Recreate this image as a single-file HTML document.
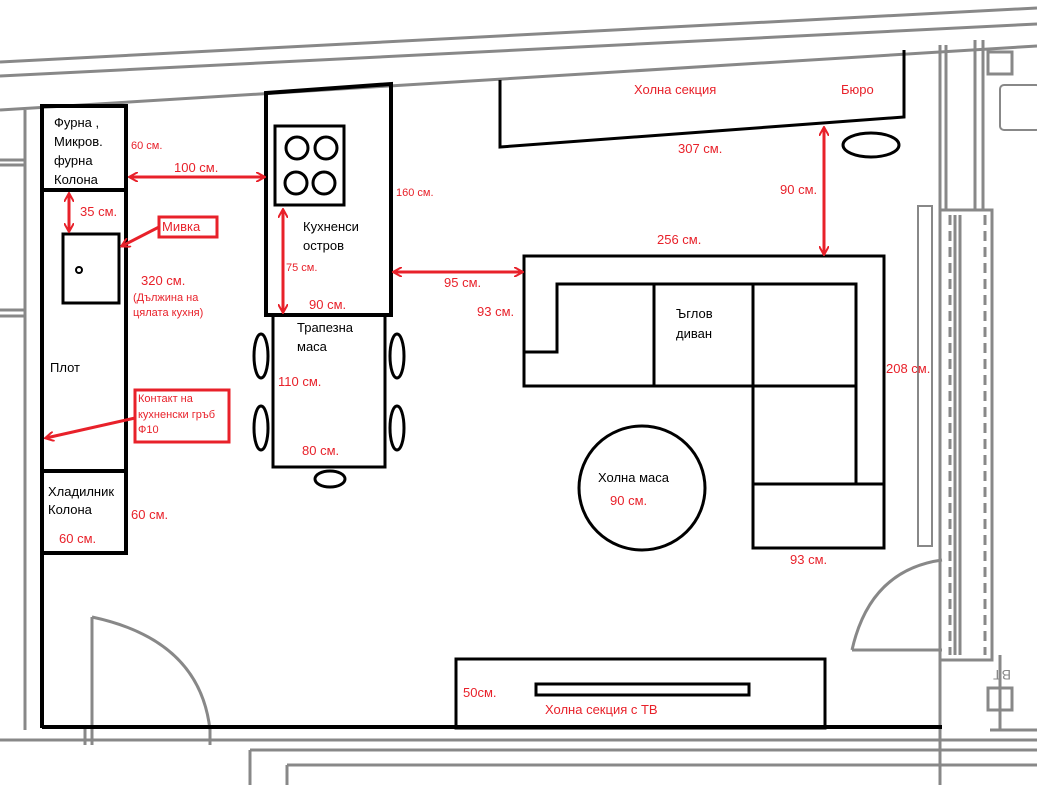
<!DOCTYPE html>
<html><head><meta charset="utf-8"><style>
html,body{margin:0;padding:0;background:#fff}
svg{display:block}
text{font-family:"Liberation Sans","DejaVu Sans",sans-serif}
.k{fill:#000;font-size:13px}
.r{fill:#e8212a;font-size:13px}
.rs{fill:#e8212a;font-size:11px}
</style></head><body>
<svg width="1037" height="785" viewBox="0 0 1037 785" xmlns="http://www.w3.org/2000/svg">
<defs>
<marker id="a" markerWidth="10" markerHeight="10" refX="8" refY="5" orient="auto-start-reverse" markerUnits="userSpaceOnUse">
<path d="M0,0 L9,5 L0,10" fill="none" stroke="#e8212a" stroke-width="2"/></marker>
</defs>
<!-- gray walls -->
<g stroke="#888" stroke-width="3" fill="none">
<line x1="0" y1="62" x2="1037" y2="8"/>
<line x1="0" y1="76" x2="1037" y2="24"/>
<line x1="0" y1="110" x2="1037" y2="46"/>
<line x1="940" y1="45" x2="940" y2="785"/>
<line x1="946" y1="45" x2="946" y2="210"/>
<line x1="975" y1="40" x2="975" y2="210"/>
<line x1="983" y1="40" x2="983" y2="210"/>
<rect x="940" y="210" width="52" height="450"/>
<line x1="950" y1="215" x2="950" y2="655" stroke-dasharray="10,6"/>
<line x1="985" y1="215" x2="985" y2="655" stroke-dasharray="10,6"/>
<line x1="955" y1="215" x2="955" y2="655"/>
<line x1="960" y1="215" x2="960" y2="655"/>
<rect x="918" y="206" width="14" height="340" stroke-width="2"/>
<line x1="0" y1="740" x2="1037" y2="740"/>
<line x1="250" y1="750" x2="1037" y2="750"/>
<line x1="250" y1="750" x2="250" y2="785"/>
<line x1="287" y1="765" x2="1037" y2="765"/>
<line x1="287" y1="765" x2="287" y2="785"/>
<line x1="25" y1="110" x2="25" y2="730"/>
<line x1="0" y1="160" x2="25" y2="160"/><line x1="0" y1="165" x2="25" y2="165"/>
<line x1="0" y1="310" x2="25" y2="310"/><line x1="0" y1="316" x2="25" y2="316"/>
<line x1="1000" y1="655" x2="1000" y2="730"/>
<line x1="990" y1="730" x2="1037" y2="730"/>
<rect x="988" y="52" width="24" height="22"/>
<rect x="988" y="688" width="24" height="22"/>
<rect x="1000" y="85" width="40" height="45" rx="4" stroke-width="2"/>
<!-- doors -->
<line x1="92" y1="617" x2="92" y2="745"/>
<path d="M92,617 Q200,640 210,730"/>
<line x1="85" y1="727" x2="85" y2="745"/><line x1="210" y1="727" x2="210" y2="745"/>
<line x1="852" y1="650" x2="942" y2="650"/>
<path d="M852,650 Q870,570 942,560"/>
</g>
<text x="985" y="680" fill="#888" font-size="14" transform="rotate(180 998 675)">BT</text>
<!-- black furniture -->
<g stroke="#000" stroke-width="4" fill="none">
<line x1="42" y1="106" x2="42" y2="728"/>
<rect x="42" y="106" width="84" height="447"/>
<line x1="42" y1="190" x2="126" y2="190"/>
<line x1="42" y1="471" x2="126" y2="471"/>
<rect x="63" y="234" width="56" height="69" stroke-width="3"/>
<polygon points="266,93 391,84 391,315 266,315"/>
<rect x="275" y="126" width="69" height="79" stroke-width="3"/>
<circle cx="297" cy="148" r="11" stroke-width="3"/><circle cx="326" cy="148" r="11" stroke-width="3"/>
<circle cx="296" cy="183" r="11" stroke-width="3"/><circle cx="324" cy="183" r="11" stroke-width="3"/>
<rect x="273" y="315" width="112" height="152" stroke-width="3"/>
<ellipse cx="261" cy="356" rx="7" ry="22" stroke-width="3"/><ellipse cx="397" cy="356" rx="7" ry="22" stroke-width="3"/>
<ellipse cx="261" cy="428" rx="7" ry="22" stroke-width="3"/><ellipse cx="397" cy="428" rx="7" ry="22" stroke-width="3"/>
<ellipse cx="330" cy="479" rx="15" ry="8" stroke-width="3"/>
<polyline points="500,80 500,147 904,117 904,50" stroke-width="3"/>
<ellipse cx="871" cy="145" rx="28" ry="12" stroke-width="3"/>
<polygon points="524,256 884,256 884,548 753,548 753,386 524,386" stroke-width="3"/>
<polyline points="524,352 557,352 557,284 856,284 856,484" stroke-width="3"/>
<line x1="654" y1="284" x2="654" y2="386" stroke-width="3"/>
<line x1="753" y1="284" x2="753" y2="548" stroke-width="3"/>
<line x1="753" y1="386" x2="856" y2="386" stroke-width="3"/>
<line x1="753" y1="484" x2="884" y2="484" stroke-width="3"/>
<ellipse cx="642" cy="488" rx="63" ry="62" stroke-width="3"/>
<rect x="456" y="659" width="369" height="69" stroke-width="3"/>
<rect x="536" y="684" width="213" height="11" stroke-width="3"/>
<line x1="42" y1="727" x2="942" y2="727"/>
</g>
<circle cx="79" cy="270" r="3" fill="none" stroke="#000" stroke-width="2"/>
<!-- red -->
<g stroke="#e8212a" stroke-width="3" fill="none">
<line x1="130" y1="177" x2="264" y2="177" marker-start="url(#a)" marker-end="url(#a)"/>
<line x1="69" y1="194" x2="69" y2="231" marker-start="url(#a)" marker-end="url(#a)"/>
<line x1="159" y1="227" x2="122" y2="246" marker-end="url(#a)"/>
<line x1="283" y1="210" x2="283" y2="312" marker-start="url(#a)" marker-end="url(#a)"/>
<line x1="394" y1="272" x2="522" y2="272" marker-start="url(#a)" marker-end="url(#a)"/>
<line x1="824" y1="128" x2="824" y2="254" marker-start="url(#a)" marker-end="url(#a)"/>
<line x1="135" y1="418" x2="46" y2="438" marker-end="url(#a)"/>
<rect x="159" y="217" width="58" height="20"/>
<rect x="135" y="390" width="94" height="52"/>
</g>
<!-- texts -->
<text class="k" x="54" y="127">Фурна ,</text>
<text class="k" x="54" y="146">Микров.</text>
<text class="k" x="54" y="165">фурна</text>
<text class="k" x="54" y="184">Колона</text>
<text class="rs" x="131" y="149">60 см.</text>
<text class="r" x="174" y="172">100 см.</text>
<text class="r" x="80" y="216">35 см.</text>
<text class="r" x="162" y="231">Мивка</text>
<text class="r" x="141" y="285">320 см.</text>
<text class="rs" x="133" y="301">(Дължина на</text>
<text class="rs" x="133" y="316">цялата кухня)</text>
<text class="k" x="50" y="372">Плот</text>
<text class="rs" x="138" y="402">Контакт на</text>
<text class="rs" x="138" y="418">кухненски гръб</text>
<text class="rs" x="138" y="433">Ф10</text>
<text class="k" x="48" y="496">Хладилник</text>
<text class="k" x="48" y="514">Колона</text>
<text class="r" x="131" y="519">60 см.</text>
<text class="r" x="59" y="543">60 см.</text>
<text class="rs" x="396" y="196">160 см.</text>
<text class="k" x="303" y="231">Кухненси</text>
<text class="k" x="303" y="250">остров</text>
<text class="rs" x="286" y="271">75 см.</text>
<text class="r" x="309" y="309">90 см.</text>
<text class="k" x="297" y="332">Трапезна</text>
<text class="k" x="297" y="351">маса</text>
<text class="r" x="278" y="386">110 см.</text>
<text class="r" x="302" y="455">80 см.</text>
<text class="r" x="444" y="287">95 см.</text>
<text class="r" x="477" y="316">93 см.</text>
<text class="r" x="634" y="94">Холна секция</text>
<text class="r" x="841" y="94">Бюро</text>
<text class="r" x="678" y="153">307 см.</text>
<text class="r" x="780" y="194">90 см.</text>
<text class="r" x="657" y="244">256 см.</text>
<text class="k" x="676" y="318">Ъглов</text>
<text class="k" x="676" y="338">диван</text>
<text class="r" x="886" y="373">208 см.</text>
<text class="k" x="598" y="482">Холна маса</text>
<text class="r" x="610" y="505">90 см.</text>
<text class="r" x="790" y="564">93 см.</text>
<text class="r" x="463" y="697">50см.</text>
<text class="r" x="545" y="714">Холна секция с ТВ</text>
</svg>
</body></html>
